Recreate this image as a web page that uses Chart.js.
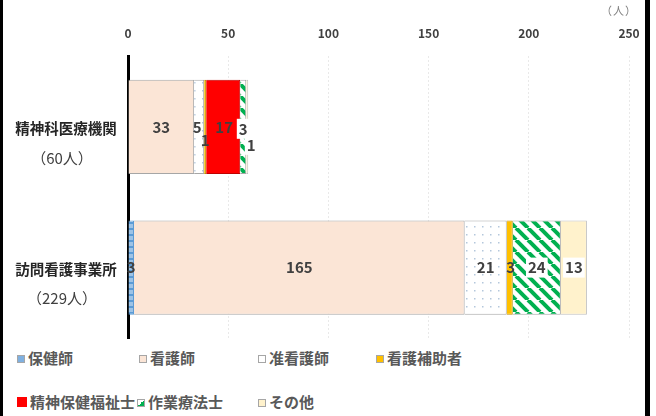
<!DOCTYPE html>
<html>
<head>
<meta charset="utf-8">
<script src="https://cdn.jsdelivr.net/npm/chart.js@4"></script>
<style>
  body { margin: 0; background: #fff; font-family: "Noto Sans CJK JP", sans-serif; }
  #wrap { position: relative; width: 656px; height: 416px; overflow: hidden; }
  #chart { position: absolute; left: 0; top: 0; }
  .frame { position: absolute; top: 0; height: 416px; background: #000; }
  #unit { position: absolute; left: 601px; top: 2px; font-size: 11px; color: #7f7f7f; letter-spacing: 1px; }
  .leg { position: absolute; font-size: 15px; font-weight: bold; color: #595959; white-space: nowrap; line-height: 20px; }
  .box { display: inline-block; width: 8px; height: 8px; margin-right: 3px; vertical-align: 1px; box-sizing: border-box; border: 1px solid #a6a6a6; }
</style>
</head>
<body>
<div id="wrap">
  <canvas id="chart" width="656" height="345"></canvas>
  <div class="frame" style="left:0;width:3px"></div>
  <div class="frame" style="left:645px;width:5px"></div>
  <div id="unit">（人）</div>
  <div id="legend"></div>
</div>
<script>
// categories and values
let facilities = ["精神科医療機関", "訪問看護事業所"];
let jobs = ["保健師", "看護師", "准看護師", "看護補助者", "精神保健福祉士", "作業療法士", "その他"];
let hokenshi    = [0, 3];
let kangoshi    = [33, 165];
let junkango    = [5, 21];
let hojo        = [1, 3];
let seishinFuku = [17, 0];
let sagyo       = [3, 24];
let sonota      = [1, 13];
let xTicks = [0, 50, 100, 150, 200, 250];

let series = [hokenshi, kangoshi, junkango, hojo, seishinFuku, sagyo, sonota];
let totals = facilities.map((f, i) => series.reduce((s, arr) => s + arr[i], 0));

// patterns
function makePattern(size, draw) {
  let c = document.createElement("canvas");
  c.width = size; c.height = size;
  let g = c.getContext("2d");
  draw(g, size);
  return document.createElement("canvas").getContext("2d").createPattern(c, "repeat");
}
let bluePat = makePattern(6, (g, s) => {
  g.fillStyle = "#9dc3e6"; g.fillRect(0, 0, s, s);
  g.fillStyle = "#5b9bd5"; g.fillRect(0, 0, s, 2);
});
let dotPat = makePattern(8, (g, s) => {
  g.fillStyle = "#ffffff"; g.fillRect(0, 0, s, s);
  g.fillStyle = "#b4c7dc"; g.fillRect(2, 2, 1.5, 1.5);
});
let stripePat = makePattern(12, (g, s) => {
  g.fillStyle = "#ffffff"; g.fillRect(0, 0, s, s);
  g.strokeStyle = "#00b050"; g.lineWidth = 4;
  [-s, 0, s].forEach(k => { g.beginPath(); g.moveTo(k, 0); g.lineTo(k + s, s); g.stroke(); });
});

let fills   = [bluePat, "#fbe5d6", dotPat, "#ffc000", "#ff0000", stripePat, "#fff2cc"];
let borders = ["#5b9bd5", "#a6a6a6", "#a6a6a6", "#bf9000", "#c00000", "#a6a6a6", "#bfbfbf"];
let legendSwatch = ["#7fb0e0", "#fbe5d6", "#ffffff", "#ffc000", "#ff0000",
                    "linear-gradient(135deg, #fff 50%, #00b050 50%)", "#fff2cc"];
let labelBg = [false, false, false, false, false, true, true];
// label offsets per dataset, per category [dx, dy]
let labelShift = [
  [[0, 0], [0, 0]],
  [[0, 0], [0, 0]],
  [[-2, 0], [0, 0]],
  [[0, 13], [1, 0]],
  [[1, 0], [0, 0]],
  [[0, 2], [0, 0]],
  [[4, 18], [0, 0]]
];

// value labels inside bars
const valueLabels = {
  id: "valueLabels",
  afterDatasetsDraw(chart) {
    let ctx = chart.ctx;
    ctx.save();
    ctx.font = "bold 15px 'Noto Sans CJK JP', sans-serif";
    ctx.textAlign = "center";
    ctx.textBaseline = "middle";
    chart.data.datasets.forEach((ds, di) => {
      let meta = chart.getDatasetMeta(di);
      meta.data.forEach((bar, i) => {
        let v = ds.data[i];
        if (!v) return;
        let x = (bar.x + bar.base) / 2 + labelShift[di][i][0];
        let y = bar.y + labelShift[di][i][1];
        let txt = String(v);
        if (labelBg[di]) {
          let w = ctx.measureText(txt).width;
          ctx.fillStyle = "#ffffff";
          ctx.fillRect(x - w / 2 - 2, y - 10, w + 4, 20);
        }
        ctx.fillStyle = "#404040";
        ctx.fillText(txt, x, y);
      });
    });
    ctx.restore();
  }
};

// category labels on the left
const catLabels = {
  id: "catLabels",
  afterDraw(chart) {
    let ctx = chart.ctx;
    let y = chart.scales.y;
    ctx.save();
    ctx.textAlign = "center";
    ctx.textBaseline = "middle";
    facilities.forEach((f, i) => {
      let py = y.getPixelForValue(i);
      ctx.fillStyle = "#262626";
      ctx.font = "bold 14.5px 'Noto Sans CJK JP', sans-serif";
      ctx.fillText(f, 66, py + 2);
      ctx.fillStyle = "#404040";
      ctx.font = "15px 'Noto Sans CJK JP', sans-serif";
      ctx.fillText("（" + totals[i] + "人）", 62, py + 31);
    });
    ctx.restore();
  }
};

new Chart(document.getElementById("chart"), {
  type: "bar",
  data: {
    labels: facilities,
    datasets: jobs.map((j, k) => ({
      label: j,
      data: series[k],
      backgroundColor: fills[k],
      borderColor: borders[k],
      borderWidth: 1,
      barPercentage: 0.67,
      categoryPercentage: 1
    }))
  },
  options: {
    indexAxis: "y",
    responsive: false,
    animation: false,
    layout: { padding: { left: 120, right: 27, top: 10, bottom: 7 } },
    plugins: { legend: { display: false }, tooltip: { enabled: false } },
    scales: {
      x: {
        position: "top",
        stacked: true,
        min: xTicks[0],
        max: xTicks[xTicks.length - 1],
        afterBuildTicks: s => { s.ticks = xTicks.map(v => ({ value: v })); },
        ticks: { color: "#404040", font: { size: 12, weight: "bold", family: "'Noto Sans CJK JP', sans-serif" }, padding: 16 },
        grid: { color: "#e9e9e9", drawTicks: false },
        border: { display: false, dash: [2, 2] }
      },
      y: {
        stacked: true,
        ticks: { display: false },
        grid: { display: false },
        border: { color: "#000000", width: 3 }
      }
    }
  },
  plugins: [valueLabels, catLabels]
});

// legend
let legendPos = [[17, 348], [139, 348], [258, 348], [376, 348], [17, 392], [137, 392], [258, 392]];
let legend = document.getElementById("legend");
jobs.forEach((j, k) => {
  let d = document.createElement("div");
  d.className = "leg";
  d.style.left = legendPos[k][0] + "px";
  d.style.top = legendPos[k][1] + "px";
  let b = document.createElement("span");
  b.className = "box";
  b.style.background = legendSwatch[k];
  if (k === 4) { b.style.width = "10px"; b.style.height = "10px"; b.style.border = "none"; }
  d.appendChild(b);
  d.appendChild(document.createTextNode(j));
  legend.appendChild(d);
});
</script>
</body>
</html>
